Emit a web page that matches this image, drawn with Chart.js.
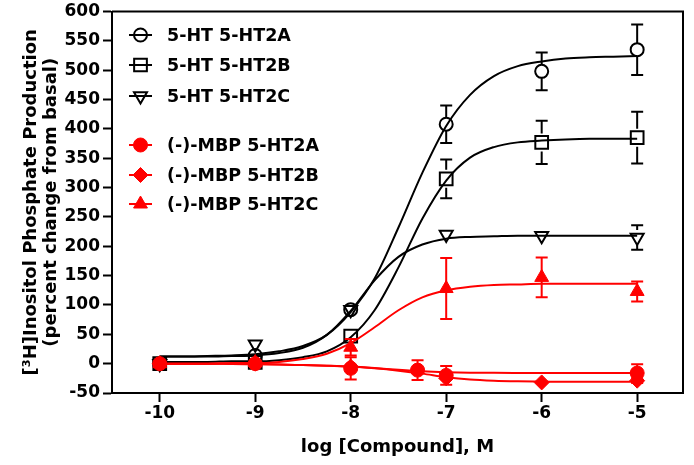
<!DOCTYPE html>
<html>
<head>
<meta charset="utf-8">
<script src="https://cdn.jsdelivr.net/npm/chart.js@4/dist/chart.umd.min.js"></script>
<style>
html,body{margin:0;padding:0;background:#fff;}
canvas{display:block;}
</style>
</head>
<body>
<canvas id="c" width="694" height="465"></canvas>
<script>
// ---- data ----
const seriesNames = ['5-HT 5-HT2A', '5-HT 5-HT2B', '5-HT 5-HT2C', '(-)-MBP 5-HT2A', '(-)-MBP 5-HT2B', '(-)-MBP 5-HT2C'];
const xTicks = [-10, -9, -8, -7, -6, -5];
const yTicks = [-50, 0, 50, 100, 150, 200, 250, 300, 350, 400, 450, 500, 550, 600];

// measured points (log M) and mean / SEM
const htX = [-10, -9, -8, -7, -6, -5];
const ht2A = [0, 14, 92, 408, 498, 535];
const ht2AErr = [0, 0, 0, 32, 32, 43];
const ht2B = [0, 2, 47, 315, 377, 385];
const ht2BErr = [0, 0, 0, 33, 37, 44];
const ht2C = [0, 33, 92, 220, 218, 215];
const ht2CErr = [0, 0, 0, 0, 0, 21];

const mbpAX = [-10, -9, -8, -7.3, -7, -5];
const mbp2A = [0, 0, -8, -11, -20, -16];
const mbp2AErr = [0, 0, 19, 17, 16, 15];
const mbpBX = [-10, -9, -8, -7, -6, -5];
const mbp2B = [0, 0, -5, -25, -32, -29];
const mbp2BErr = [0, 0, 0, 0, 0, 4];
const mbpCX = [-10, -9, -8, -7, -6, -5];
const mbp2C = [0, 2, 28, 128, 147, 123];
const mbp2CErr = [0, 0, 14, 52, 34, 17];

// fitted curves
const curveX = [-10, -9.75, -9.5, -9.25, -9, -8.75, -8.5, -8.25, -8, -7.75, -7.5, -7.25, -7,
                -6.75, -6.5, -6.25, -6, -5.75, -5.5, -5.25, -5];
const fit2A = [12, 12, 13, 14, 16, 21, 30, 49, 88, 145, 232, 325, 405, 458, 490, 507, 515, 520, 522, 523, 524];
const fit2B = [3, 3, 3, 4, 4, 6, 11, 21, 45, 91, 164, 247, 312, 351, 369, 377, 380, 382, 383, 383, 383];
const fit2C = [12, 12, 12, 13, 14, 18, 27, 49, 90, 142, 182, 203, 213, 216, 217, 218, 218, 218, 218, 218, 218];
const fitM2A = [0, 0, 0, -0.5, -1, -1.5, -2.5, -3.5, -5, -7.5, -10.5, -13, -14.5, -15.3, -15.7, -15.9, -16, -16, -16, -16, -16];
const fitM2B = [0, 0, 0, -0.5, -1, -1.5, -2.5, -3.5, -5, -8, -12, -17, -23, -27, -29, -30, -30.5, -31, -31, -31, -31];
const fitM2C = [0, 0, 0, 1, 1, 3, 8, 17, 35, 62, 91, 113, 125, 131, 134, 135, 136, 136, 136, 136, 136];

// ---- build ----
const FONT = 'DejaVu Sans';
const RED = '#ff0000';
const pts = (xs, ys) => xs.map((x, i) => ({x: x, y: ys[i]}));

function pointSet(label, xs, ys, errs, style, order) {
  return Object.assign({
    label: label, data: pts(xs, ys), errs: errs, showLine: false, order: order, isPoints: true
  }, style);
}
function curveSet(xs, ys, color, order) {
  return {
    label: '', data: pts(xs, ys), showLine: true, borderColor: color, borderWidth: 2,
    pointRadius: 0, cubicInterpolationMode: 'monotone', fill: false, order: order, isCurve: true
  };
}

const hollow = (ps, r, rot) => ({pointStyle: ps, pointRadius: r, pointRotation: rot || 0,
  pointBackgroundColor: 'rgba(0,0,0,0)', pointBorderColor: '#000', pointBorderWidth: 2, borderColor: '#000'});
const filled = (ps, r) => ({pointStyle: ps, pointRadius: r, pointRotation: 0,
  pointBackgroundColor: RED, pointBorderColor: RED, pointBorderWidth: 1, borderColor: RED});

const pointDatasets = [
  pointSet(seriesNames[0], htX, ht2A, ht2AErr, hollow('circle', 6.5), 4),
  pointSet(seriesNames[1], htX, ht2B, ht2BErr, hollow('rect', 9), 4),
  pointSet(seriesNames[2], htX, ht2C, ht2CErr, hollow('triangle', 7.5, 180), 4),
  pointSet(seriesNames[3], mbpAX, mbp2A, mbp2AErr, filled('circle', 7), 0),
  pointSet(seriesNames[4], mbpBX, mbp2B, mbp2BErr, filled('rectRot', 7.5), 0),
  pointSet(seriesNames[5], mbpCX, mbp2C, mbp2CErr, filled('triangle', 8), 0)
];
const curveDatasets = [
  curveSet(curveX, fit2A, '#000', 5),
  curveSet(curveX, fit2B, '#000', 5),
  curveSet(curveX, fit2C, '#000', 5),
  curveSet(curveX, fitM2A, RED, 1),
  curveSet(curveX, fitM2B, RED, 1),
  curveSet(curveX, fitM2C, RED, 1)
];

const errorBars = {
  id: 'errorBars',
  afterDatasetsDraw(chart) {
    const ctx = chart.ctx, xs = chart.scales.x, ys = chart.scales.y;
    ctx.save();
    ctx.lineWidth = 2;
    chart.data.datasets.forEach(ds => {
      if (!ds.isPoints) return;
      ctx.strokeStyle = ds.pointBorderColor;
      const hollowMark = ds.pointBackgroundColor === 'rgba(0,0,0,0)';
      const gap = hollowMark ? ds.pointRadius : 0;
      ds.data.forEach((p, i) => {
        const e = ds.errs[i];
        if (!e) return;
        const px = xs.getPixelForValue(p.x);
        const py = ys.getPixelForValue(p.y);
        const top = ys.getPixelForValue(p.y + e);
        const bot = ys.getPixelForValue(p.y - e);
        ctx.beginPath();
        ctx.moveTo(px, top); ctx.lineTo(px, py - gap);
        ctx.moveTo(px, py + gap); ctx.lineTo(px, bot);
        ctx.moveTo(px - 6, top); ctx.lineTo(px + 6, top);
        ctx.moveTo(px - 6, bot); ctx.lineTo(px + 6, bot);
        ctx.stroke();
      });
    });
    ctx.restore();
  }
};

const frame = {
  id: 'frame',
  afterDraw(chart) {
    const a = chart.chartArea, ctx = chart.ctx;
    ctx.save();
    ctx.strokeStyle = '#000';
    ctx.lineWidth = 2;
    ctx.beginPath();
    ctx.moveTo(a.left, a.top); ctx.lineTo(a.right, a.top); ctx.lineTo(a.right, a.bottom);
    ctx.stroke();
    ctx.restore();
  }
};

const legendRowsY = [35, 65, 96, 145, 175, 204];
const customLegend = {
  id: 'customLegend',
  afterDraw(chart) {
    const ctx = chart.ctx;
    ctx.save();
    pointDatasets.forEach((ds, i) => {
      const y = legendRowsY[i];
      const color = ds.pointBorderColor;
      ctx.strokeStyle = color;
      ctx.lineWidth = 2;
      ctx.beginPath();
      ctx.moveTo(129, y); ctx.lineTo(152, y);
      ctx.stroke();
      ctx.fillStyle = ds.pointBackgroundColor;
      ctx.strokeStyle = color;
      ctx.lineWidth = ds.pointBorderWidth;
      Chart.helpers.drawPoint(ctx, {pointStyle: ds.pointStyle, radius: ds.pointRadius,
        rotation: ds.pointRotation, borderWidth: ds.pointBorderWidth}, 140.5, y);
      ctx.fillStyle = '#000';
      ctx.font = 'bold 17.5px "' + FONT + '"';
      ctx.textBaseline = 'middle';
      ctx.textAlign = 'left';
      ctx.fillText(ds.label, 167, y + 1);
    });
    ctx.restore();
  }
};

const tickFont = {family: FONT, size: 17, weight: 'bold', lineHeight: 1.0};
const titleFont = {family: FONT, size: 18, weight: 'bold', lineHeight: 20 / 18};

new Chart(document.getElementById('c'), {
  type: 'scatter',
  data: {datasets: pointDatasets.concat(curveDatasets)},
  options: {
    responsive: false,
    animation: false,
    devicePixelRatio: 1,
    layout: {padding: {left: 0, right: 6, top: 10, bottom: 0}},
    plugins: {legend: {display: false}, tooltip: {enabled: false}},
    scales: {
      x: {
        type: 'linear', min: -10.5, max: -4.52,
        afterBuildTicks: s => { s.ticks = xTicks.map(v => ({value: v})); },
        afterFit: s => { s.height = 72; },
        grid: {drawOnChartArea: false, drawTicks: true, tickLength: 9, tickWidth: 2, tickColor: '#000'},
        border: {display: true, color: '#000', width: 2},
        ticks: {color: '#000', font: tickFont, padding: 3, maxRotation: 0, autoSkip: false,
          callback: v => String(v)},
        title: {display: true, text: 'log [Compound], M', color: '#000', font: titleFont,
          padding: {top: 0, bottom: 8}}
      },
      y: {
        type: 'linear', min: -50, max: 600,
        afterBuildTicks: s => { s.ticks = yTicks.map(v => ({value: v})); },
        afterFit: s => { s.width = 112; },
        grid: {drawOnChartArea: false, drawTicks: true, tickLength: 9, tickWidth: 2, tickColor: '#000'},
        border: {display: true, color: '#000', width: 2},
        ticks: {color: '#000', font: tickFont, padding: 3, autoSkip: false, callback: v => String(v)},
        title: {display: true, text: ['[³H]Inositol Phosphate Production', '(percent change from basal)'],
          color: '#000', font: titleFont, padding: {top: 21, bottom: 0}}
      }
    }
  },
  plugins: [errorBars, frame, customLegend]
});
</script>
</body>
</html>
